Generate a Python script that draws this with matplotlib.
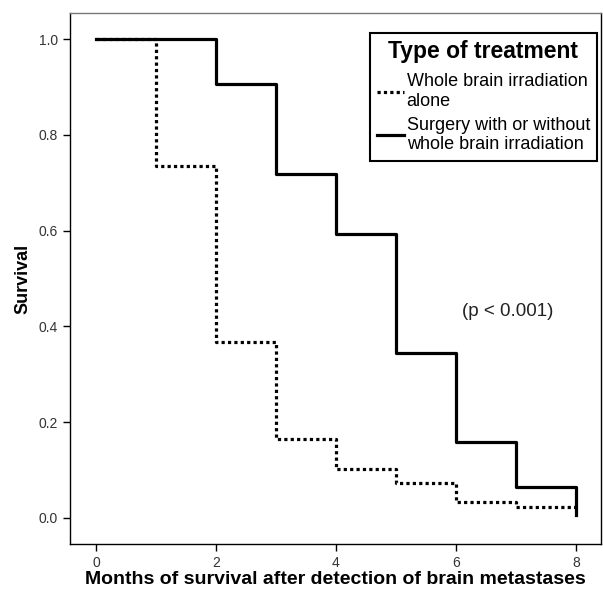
import matplotlib.pyplot as plt
from matplotlib.lines import Line2D

plt.rcParams['font.family'] = ['Liberation Sans', 'DejaVu Sans']

months = [0, 1, 2, 3, 4, 5, 6, 7, 8]
surgery = [1.0, 1.0, 0.906, 0.718, 0.594, 0.344, 0.158, 0.064, 0.005]
wbi_alone = [1.0, 0.735, 0.367, 0.164, 0.102, 0.072, 0.032, 0.022, 0.022]

labels = ['Whole brain irradiation\nalone',
          'Surgery with or without\nwhole brain irradiation']

fig = plt.figure(figsize=(6.03, 5.99), dpi=100)
ax = fig.add_axes([0.1156, 0.0918, 0.881, 0.8866])

ax.step(months, wbi_alone, where='post', color='black', lw=2.3,
        linestyle=(0, (1, 1)), solid_capstyle='butt', dash_capstyle='butt')
ax.step(months, surgery, where='post', color='black', lw=2.3)

ax.set_xlim(-0.44, 8.42)
ax.set_ylim(-0.055, 1.055)
ax.set_xticks([0, 2, 4, 6, 8])
ax.set_yticks([0.0, 0.2, 0.4, 0.6, 0.8, 1.0])
ax.set_yticklabels(['0.0', '0.2', '0.4', '0.6', '0.8', '1.0'])
ax.tick_params(direction='out', length=5, width=1, labelsize=10, labelcolor='#333333')

for s in ax.spines.values():
    s.set_color('black')
    s.set_linewidth(1)
ax.spines['top'].set_color('#777777')

ax.set_xlabel('Months of survival after detection of brain metastases',
              fontsize=14, fontweight='bold', labelpad=1)
ax.set_ylabel('Survival', fontsize=13, fontweight='bold', labelpad=5)

ax.text(6.86, 0.43, '(p < 0.001)', fontsize=13.5, color='#222222',
        ha='center', va='center')

handles = [Line2D([], [], color='black', lw=2.3, linestyle=(0, (1, 1))),
           Line2D([], [], color='black', lw=2.3)]
leg = ax.legend(handles, labels, title='Type of treatment', loc='upper right',
                bbox_to_anchor=(0.993, 0.962), fontsize=13, handlelength=1.5,
                handletextpad=0.15, borderpad=0.4, labelspacing=0.4,
                borderaxespad=0, fancybox=False, framealpha=1,
                edgecolor='black')
leg.get_title().set_fontweight('bold')
leg.get_title().set_fontsize(16.5)
leg.get_frame().set_linewidth(1.5)
leg._legend_box.sep = 7

fig.savefig('out.png', dpi=100)
